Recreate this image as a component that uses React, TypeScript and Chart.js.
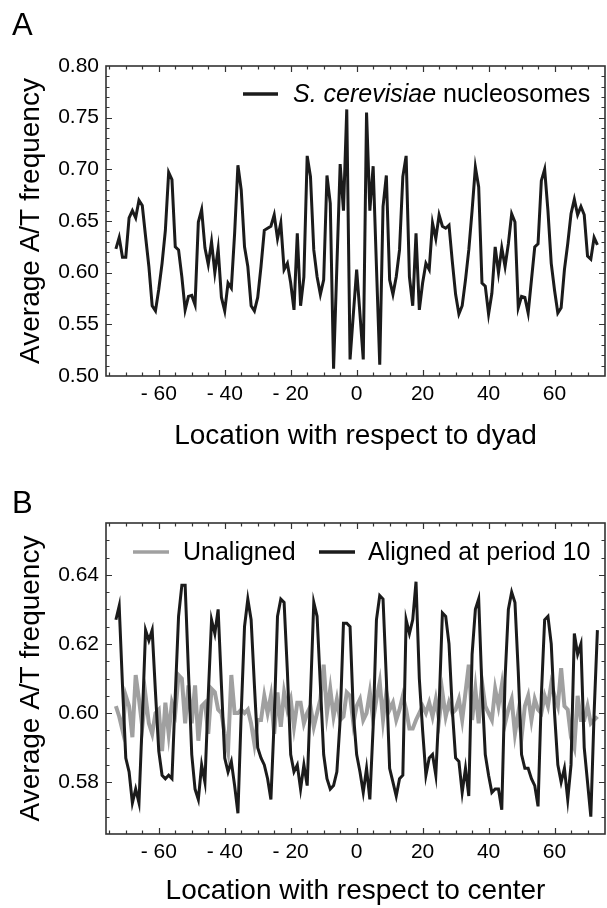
import React, { useEffect, useRef } from 'react';
import { Chart, registerables } from 'chart.js';

Chart.register(...registerables);

// ---------- data ----------
const locations = [
  -73, -72, -71, -70, -69, -68, -67, -66, -65, -64, -63, -62, -61, -60, -59, -58, -57, -56, -55, -54,
  -53, -52, -51, -50, -49, -48, -47, -46, -45, -44, -43, -42, -41, -40, -39, -38, -37, -36, -35, -34,
  -33, -32, -31, -30, -29, -28, -27, -26, -25, -24, -23, -22, -21, -20, -19, -18, -17, -16, -15, -14,
  -13, -12, -11, -10, -9, -8, -7, -6, -5, -4, -3, -2, -1, 0, 1, 2, 3, 4, 5, 6,
  7, 8, 9, 10, 11, 12, 13, 14, 15, 16, 17, 18, 19, 20, 21, 22, 23, 24, 25, 26,
  27, 28, 29, 30, 31, 32, 33, 34, 35, 36, 37, 38, 39, 40, 41, 42, 43, 44, 45, 46,
  47, 48, 49, 50, 51, 52, 53, 54, 55, 56, 57, 58, 59, 60, 61, 62, 63, 64, 65, 66,
  67, 68, 69, 70, 71, 72, 73,
];

// Panel A: S. cerevisiae nucleosomes
const nucleosomeAT = [
  0.623, 0.634, 0.615, 0.615, 0.653, 0.660, 0.653, 0.670, 0.665, 0.635,
  0.606, 0.568, 0.563, 0.584, 0.609, 0.641, 0.697, 0.690, 0.625, 0.622,
  0.596, 0.564, 0.577, 0.578, 0.569, 0.649, 0.661, 0.624, 0.608, 0.630,
  0.600, 0.623, 0.576, 0.563, 0.590, 0.585, 0.638, 0.704, 0.680, 0.625,
  0.606, 0.568, 0.563, 0.576, 0.606, 0.641, 0.643, 0.645, 0.656, 0.633,
  0.648, 0.603, 0.609, 0.590, 0.564, 0.638, 0.568, 0.596, 0.713, 0.693,
  0.622, 0.596, 0.579, 0.593, 0.694, 0.667, 0.507, 0.606, 0.705, 0.660,
  0.758, 0.516, 0.560, 0.603, 0.560, 0.516, 0.755, 0.660, 0.703, 0.606,
  0.511, 0.664, 0.694, 0.593, 0.579, 0.596, 0.622, 0.693, 0.713, 0.596,
  0.568, 0.638, 0.564, 0.590, 0.609, 0.603, 0.648, 0.633, 0.656, 0.645,
  0.643, 0.646, 0.611, 0.579, 0.560, 0.568, 0.593, 0.622, 0.660, 0.702,
  0.683, 0.590, 0.587, 0.560, 0.580, 0.625, 0.600, 0.624, 0.606, 0.628,
  0.657, 0.649, 0.566, 0.577, 0.576, 0.561, 0.593, 0.625, 0.628, 0.689,
  0.700, 0.660, 0.609, 0.583, 0.561, 0.566, 0.603, 0.628, 0.657, 0.671,
  0.656, 0.664, 0.656, 0.616, 0.613, 0.634, 0.627,
];

// Panel B: unaligned
const unaligned = [
  0.602, 0.599, 0.595, 0.605, 0.602, 0.593, 0.611, 0.604, 0.596, 0.605,
  0.597, 0.594, 0.600, 0.601, 0.589, 0.603, 0.594, 0.603, 0.600, 0.611,
  0.610, 0.597, 0.608, 0.597, 0.608, 0.592, 0.602, 0.603, 0.594, 0.607,
  0.606, 0.601, 0.600, 0.594, 0.589, 0.611, 0.600, 0.600, 0.601, 0.600,
  0.601, 0.597, 0.591, 0.598, 0.598, 0.605, 0.600, 0.605, 0.594, 0.606,
  0.596, 0.606, 0.601, 0.604, 0.596, 0.603, 0.603, 0.597, 0.600, 0.602,
  0.596, 0.600, 0.604, 0.614, 0.600, 0.607, 0.599, 0.604, 0.598, 0.599,
  0.606, 0.605, 0.597, 0.602, 0.604, 0.598, 0.600, 0.606, 0.598, 0.604,
  0.609, 0.598, 0.606, 0.601, 0.603, 0.598, 0.601, 0.605, 0.601, 0.5955,
  0.5955, 0.598, 0.600, 0.602, 0.600, 0.603, 0.599, 0.604, 0.598, 0.606,
  0.599, 0.603, 0.600, 0.601, 0.604, 0.598, 0.606, 0.614, 0.598, 0.607,
  0.597, 0.609, 0.602, 0.600, 0.598, 0.607, 0.602, 0.608, 0.597, 0.601,
  0.604, 0.594, 0.600, 0.593, 0.602, 0.605, 0.598, 0.604, 0.601, 0.600,
  0.605, 0.602, 0.6085, 0.605, 0.602, 0.613, 0.602, 0.601, 0.593, 0.590,
  0.605, 0.598, 0.598, 0.602, 0.597, 0.598, 0.599,
];

// Panel B: aligned at period 10
const alignedP10 = [
  0.627, 0.631, 0.608, 0.587, 0.583, 0.574, 0.578, 0.574, 0.598, 0.624,
  0.621, 0.624, 0.606, 0.589, 0.582, 0.581, 0.582, 0.581, 0.605, 0.628,
  0.637, 0.637, 0.612, 0.588, 0.578, 0.575, 0.585, 0.580, 0.605, 0.627,
  0.623, 0.630, 0.608, 0.587, 0.583, 0.586, 0.579, 0.571, 0.600, 0.625,
  0.633, 0.627, 0.608, 0.590, 0.587, 0.585, 0.581, 0.575, 0.598, 0.628,
  0.633, 0.632, 0.612, 0.588, 0.583, 0.585, 0.578, 0.585, 0.579, 0.605,
  0.632, 0.628, 0.608, 0.588, 0.581, 0.578, 0.579, 0.583, 0.598, 0.626,
  0.626, 0.625, 0.600, 0.588, 0.583, 0.577, 0.584, 0.575, 0.596, 0.627,
  0.634, 0.633, 0.610, 0.584, 0.580, 0.576, 0.581, 0.582, 0.627, 0.623,
  0.627, 0.638, 0.610, 0.595, 0.582, 0.587, 0.588, 0.582, 0.602, 0.629,
  0.628, 0.620, 0.601, 0.587, 0.586, 0.577, 0.584, 0.576, 0.617, 0.630,
  0.633, 0.607, 0.588, 0.582, 0.577, 0.578, 0.578, 0.572, 0.610, 0.630,
  0.635, 0.632, 0.612, 0.588, 0.584, 0.584, 0.581, 0.579, 0.573, 0.605,
  0.627, 0.628, 0.620, 0.600, 0.585, 0.580, 0.584, 0.575, 0.585, 0.623,
  0.617, 0.620, 0.590, 0.580, 0.570, 0.600, 0.624,
];

const legendA = { italic: 'S. cerevisiae', rest: ' nucleosomes' };
const legendB = ['Unaligned', 'Aligned at period 10'];
const xTitleA = 'Location with respect to dyad';
const xTitleB = 'Location with respect to center';
const yTitle = 'Average A/T frequency';

// ---------- styling ----------
const FONT = '"Liberation Sans", Arial, Helvetica, sans-serif';
const BLACK = '#1b1b1b';
const GRAY = '#a0a0a0';
const W = 607;
const H = 454;

function fmtX(v: number) {
  if (v === 0) return '0';
  return v < 0 ? '- ' + Math.abs(v) : String(v);
}

type FrameCfg = {
  xMinorStep: number;
  xMajorStep: number;
  yMinorStep: number; // in units of 1/1000
  yMajorStep: number;
  letter: string;
  letterY: number;
  drawLegend: (ctx: CanvasRenderingContext2D) => void;
};

function framePlugin(cfg: FrameCfg) {
  return {
    id: 'frameTicks',
    afterDraw(chart: any) {
      const { ctx, chartArea: a, scales } = chart;
      const xs = scales.x;
      const ys = scales.y;
      ctx.save();
      ctx.strokeStyle = '#333';
      ctx.lineWidth = 1.6;
      ctx.strokeRect(a.left, a.top, a.right - a.left, a.bottom - a.top);
      ctx.lineWidth = 1.2;
      ctx.beginPath();
      // x ticks (top and bottom, inward)
      const x0 = Math.ceil(xs.min / cfg.xMinorStep) * cfg.xMinorStep;
      for (let v = x0; v <= xs.max; v += cfg.xMinorStep) {
        const px = Math.round(xs.getPixelForValue(v)) + 0.5;
        if (px <= a.left + 1 || px >= a.right - 1) continue;
        const len = v % cfg.xMajorStep === 0 ? 6 : 3.5;
        ctx.moveTo(px, a.bottom);
        ctx.lineTo(px, a.bottom - len);
        ctx.moveTo(px, a.top);
        ctx.lineTo(px, a.top + len);
      }
      // y ticks (left and right, inward)
      const ymin = Math.round(ys.min * 1000);
      const ymax = Math.round(ys.max * 1000);
      const y0 = Math.ceil(ymin / cfg.yMinorStep) * cfg.yMinorStep;
      for (let k = y0; k <= ymax; k += cfg.yMinorStep) {
        const py = Math.round(ys.getPixelForValue(k / 1000)) + 0.5;
        if (py <= a.top + 1 || py >= a.bottom - 1) continue;
        const len = k % cfg.yMajorStep === 0 ? 6 : 3.5;
        ctx.moveTo(a.left, py);
        ctx.lineTo(a.left + len, py);
        ctx.moveTo(a.right, py);
        ctx.lineTo(a.right - len, py);
      }
      ctx.stroke();
      // panel letter
      ctx.fillStyle = '#000';
      ctx.font = `31px ${FONT}`;
      ctx.textBaseline = 'alphabetic';
      ctx.textAlign = 'left';
      ctx.fillText(cfg.letter, 12, cfg.letterY);
      cfg.drawLegend(ctx);
      ctx.restore();
    },
  };
}

function drawLegendA(ctx: CanvasRenderingContext2D) {
  ctx.save();
  ctx.strokeStyle = BLACK;
  ctx.lineWidth = 3.5;
  ctx.beginPath();
  ctx.moveTo(243, 94);
  ctx.lineTo(278, 94);
  ctx.stroke();
  ctx.fillStyle = '#000';
  ctx.textBaseline = 'middle';
  ctx.textAlign = 'left';
  ctx.font = `italic 25px ${FONT}`;
  ctx.fillText(legendA.italic, 293, 95);
  const w = ctx.measureText(legendA.italic).width;
  ctx.font = `25px ${FONT}`;
  ctx.fillText(legendA.rest, 293 + w, 95);
  ctx.restore();
}

function drawLegendB(ctx: CanvasRenderingContext2D) {
  ctx.save();
  ctx.lineWidth = 3.5;
  ctx.strokeStyle = GRAY;
  ctx.beginPath();
  ctx.moveTo(133, 98);
  ctx.lineTo(169, 98);
  ctx.stroke();
  ctx.strokeStyle = BLACK;
  ctx.beginPath();
  ctx.moveTo(319, 98);
  ctx.lineTo(355, 98);
  ctx.stroke();
  ctx.fillStyle = '#000';
  ctx.textBaseline = 'middle';
  ctx.textAlign = 'left';
  ctx.font = `25px ${FONT}`;
  ctx.fillText(legendB[0], 183, 99);
  ctx.fillText(legendB[1], 368, 99);
  ctx.restore();
}

function baseScales(opts: {
  xTitle: string;
  yMin: number;
  yMax: number;
  yStep: number;
  xHeight: number;
  xTitlePad: number;
}) {
  return {
    x: {
      type: 'linear',
      min: -76,
      max: 75.3,
      afterFit: (s: any) => {
        s.height = opts.xHeight;
      },
      grid: { display: false, drawTicks: false },
      border: { display: false },
      ticks: {
        stepSize: 20,
        includeBounds: false,
        autoSkip: false,
        maxRotation: 0,
        padding: 6,
        color: '#000',
        font: { family: FONT, size: 21 },
        callback: (v: number) => fmtX(v),
      },
      title: {
        display: true,
        text: opts.xTitle,
        color: '#000',
        font: { family: FONT, size: 28 },
        padding: { top: 0, bottom: opts.xTitlePad },
      },
    },
    y: {
      min: opts.yMin,
      max: opts.yMax,
      afterFit: (s: any) => {
        s.width = 106;
      },
      grid: { display: false, drawTicks: false },
      border: { display: false },
      ticks: {
        stepSize: opts.yStep,
        includeBounds: false,
        autoSkip: false,
        padding: 7,
        color: '#000',
        font: { family: FONT, size: 21 },
        callback: (v: number) => v.toFixed(2),
      },
      title: {
        display: true,
        text: yTitle,
        color: '#000',
        font: { family: FONT, size: 28 },
        padding: { top: 14, bottom: 0 },
      },
    },
  };
}

function toPoints(values: number[]) {
  return locations.map((x, i) => ({ x, y: values[i] }));
}

export default function App() {
  const refA = useRef<HTMLCanvasElement | null>(null);
  const refB = useRef<HTMLCanvasElement | null>(null);

  useEffect(() => {
    const chartA = new Chart(refA.current as HTMLCanvasElement, {
      type: 'line',
      data: {
        datasets: [
          {
            data: toPoints(nucleosomeAT),
            borderColor: BLACK,
            borderWidth: 3,
            pointRadius: 0,
            tension: 0,
            fill: false,
          },
        ],
      },
      options: {
        responsive: false,
        animation: false,
        events: [],
        layout: { padding: { left: 0, right: 2, top: 66, bottom: 0 } },
        plugins: { legend: { display: false }, tooltip: { enabled: false } },
        scales: baseScales({
          xTitle: xTitleA,
          yMin: 0.5,
          yMax: 0.8,
          yStep: 0.05,
          xHeight: H - 376,
          xTitlePad: 1,
        }) as any,
      },
      plugins: [
        framePlugin({
          xMinorStep: 5,
          xMajorStep: 20,
          yMinorStep: 10,
          yMajorStep: 50,
          letter: 'A',
          letterY: 35,
          drawLegend: drawLegendA,
        }),
      ],
    } as any);

    const chartB = new Chart(refB.current as HTMLCanvasElement, {
      type: 'line',
      data: {
        datasets: [
          {
            label: legendB[1],
            data: toPoints(alignedP10),
            borderColor: BLACK,
            borderWidth: 3,
            pointRadius: 0,
            tension: 0,
            fill: false,
          },
          {
            label: legendB[0],
            data: toPoints(unaligned),
            borderColor: GRAY,
            borderWidth: 4,
            pointRadius: 0,
            tension: 0,
            fill: false,
          },
        ],
      },
      options: {
        responsive: false,
        animation: false,
        events: [],
        layout: { padding: { left: 0, right: 2, top: 69, bottom: 0 } },
        plugins: { legend: { display: false }, tooltip: { enabled: false } },
        scales: baseScales({
          xTitle: xTitleB,
          yMin: 0.565,
          yMax: 0.655,
          yStep: 0.02,
          xHeight: H - 380,
          xTitlePad: 0,
        }) as any,
      },
      plugins: [
        framePlugin({
          xMinorStep: 5,
          xMajorStep: 20,
          yMinorStep: 5,
          yMajorStep: 20,
          letter: 'B',
          letterY: 59,
          drawLegend: drawLegendB,
        }),
      ],
    } as any);

    return () => {
      chartA.destroy();
      chartB.destroy();
    };
  }, []);

  return (
    <div
      style={{
        position: 'absolute',
        left: 0,
        top: 0,
        width: W,
        height: H * 2,
        background: '#fff',
      }}
    >
      <canvas ref={refA} width={W} height={H} style={{ display: 'block', width: W, height: H }} />
      <canvas ref={refB} width={W} height={H} style={{ display: 'block', width: W, height: H }} />
    </div>
  );
}
